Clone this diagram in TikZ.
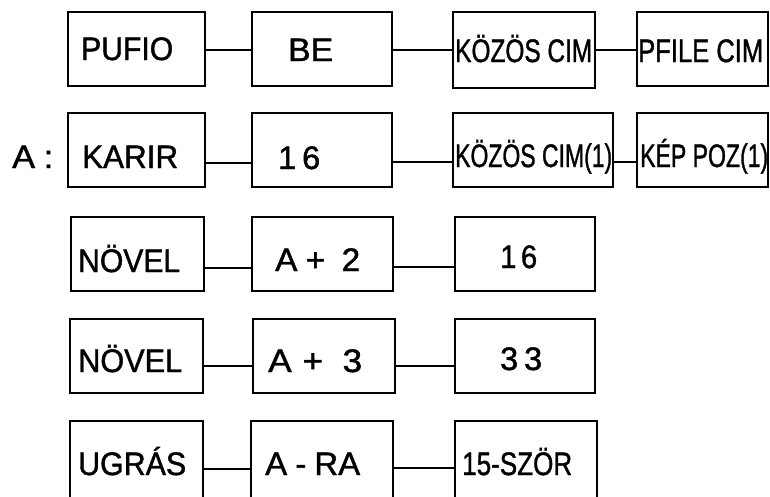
\documentclass[tikz,border=0pt]{standalone}
\usepackage{fontspec}
\setmainfont[FakeBold=1.3]{Liberation Sans}
\usepackage{graphicx}
\usetikzlibrary{fit}
\newcommand{\fitlab}[2]{\resizebox{#1pt}{\height}{#2}}
\begin{document}
\begin{tikzpicture}[x=1pt,y=-1pt,
  box/.style={draw, line width=2.6pt, inner sep=0pt},
  con/.style={line width=1.8pt},
  lab/.style={anchor=base west, inner sep=0pt, font=\fontsize{32.5}{36}\selectfont}]
\useasboundingbox (0,0) rectangle (770,496);
\clip (0,0) rectangle (770,496);
% row 1
\node[box, fit={(68,12) (205,86)}] (b11) {};
\node[box, fit={(252,12) (392,86)}] (b12) {};
\node[box, fit={(453,12) (595,88)}] (b13) {};
\node[box, fit={(637,12) (768,86)}] (b14) {};
% row 2
\node[box, fit={(68,113) (205,187)}] (b21) {};
\node[box, fit={(252,113) (392,187)}] (b22) {};
\node[box, fit={(453,113) (613,187)}] (b23) {};
\node[box, fit={(637,113) (768,187)}] (b24) {};
% row 3
\node[box, fit={(71,217) (204,291)}] (b31) {};
\node[box, fit={(252,217) (393,291)}] (b32) {};
\node[box, fit={(455,217) (595,291)}] (b33) {};
% row 4
\node[box, fit={(70,319) (203,393)}] (b41) {};
\node[box, fit={(253,319) (395,393)}] (b42) {};
\node[box, fit={(455,319) (595,393)}] (b43) {};
% row 5
\node[box, fit={(70,421) (203,520)}] (b51) {};
\node[box, fit={(251,421) (393,520)}] (b52) {};
\node[box, fit={(455,421) (597,520)}] (b53) {};
% labels
\node[lab] (t11) at (81,60) {\fitlab{92}{PUFIO}};
\node[lab] (t12) at (288,61) {\fitlab{45}{BE}};
\node[lab] (t13) at (455,62) {\fitlab{137}{KÖZÖS CIM}};
\node[lab] (t14) at (638,62) {\fitlab{125}{PFILE CIM}};
\node[lab] (tA) at (12,168) {\fitlab{41}{A\kern8pt:}};
\node[lab] (t21) at (82,168) {\fitlab{96}{KARIR}};
\node[lab] (t22) at (278,169) {\fitlab{42}{1\kern6pt 6}};
\node[lab] (t23) at (455,167) {\fitlab{157}{KÖZÖS CIM(1)}};
\node[lab] (t24) at (640,167) {\fitlab{128}{KÉP POZ(1)}};
\node[lab] (t31) at (78,272) {\fitlab{102}{NÖVEL}};
\node[lab] (t32) at (275,271) {\fitlab{85}{A\kern8pt+\kern16pt 2}};
\node[lab] (t33) at (500,268) {\fitlab{37}{1\kern5pt 6}};
\node[lab] (t41) at (78,372) {\fitlab{104}{NÖVEL}};
\node[lab] (t42) at (268,372) {\fitlab{94}{A\kern10pt+\kern18pt 3}};
\node[lab] (t43) at (500,370) {\fitlab{42}{3\kern6pt 3}};
\node[lab] (t51) at (78,475) {\fitlab{108}{UGRÁS}};
\node[lab] (t52) at (265,475) {\fitlab{95}{A\kern8pt-\kern8pt RA}};
\node[lab] (t53) at (462,475) {\fitlab{110}{15-SZÖR}};
% connectors
\draw[con] (b11.east |- 0,50) -- (b12.west |- 0,50);
\draw[con] (b12.east |- 0,50) -- (b13.west |- 0,50);
\draw[con] (b13.east |- 0,50) -- (b14.west |- 0,50);
\draw[con] (b21.east |- 0,163) -- (b22.west |- 0,163);
\draw[con] (b22.east |- 0,162) -- (b23.west |- 0,162);
\draw[con] (b23.east |- 0,162) -- (b24.west |- 0,162);
\draw[con] (b31.east |- 0,268) -- (b32.west |- 0,268);
\draw[con] (b32.east |- 0,267) -- (b33.west |- 0,267);
\draw[con] (b41.east |- 0,366) -- (b42.west |- 0,366);
\draw[con] (b42.east |- 0,366) -- (b43.west |- 0,366);
\draw[con] (b51.east |- 0,469) -- (b52.west |- 0,469);
\draw[con] (b52.east |- 0,468) -- (b53.west |- 0,468);
\end{tikzpicture}
\end{document}
